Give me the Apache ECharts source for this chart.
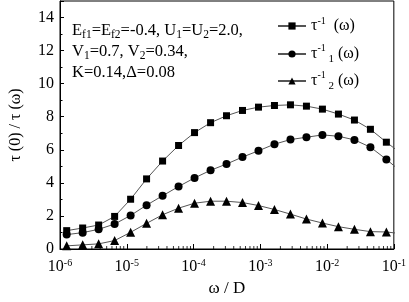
<!DOCTYPE html>
<html><head><meta charset="utf-8">
<script src="https://cdn.jsdelivr.net/npm/echarts@6/dist/echarts.min.js"></script>
<style>html,body{margin:0;padding:0;background:#fff}#c{width:409px;height:302px}</style>
</head><body><div id="c"></div>
<script>
const omega = [1.259e-6,2.185e-6,3.79e-6,6.58e-6,1.142e-5,1.98e-5,3.44e-5,5.97e-5,1.035e-4,1.80e-4,3.12e-4,5.41e-4,9.39e-4,1.63e-3,2.83e-3,4.91e-3,8.52e-3,1.48e-2,2.57e-2,4.46e-2,7.73e-2,1.34e-1];
const tauInv  = [1.11,1.27,1.45,1.97,3.01,4.24,5.32,6.26,7.04,7.64,8.06,8.38,8.58,8.68,8.72,8.64,8.46,8.16,7.80,7.24,6.46,5.72];
const tauInv1 = [0.87,0.99,1.19,1.51,2.03,2.65,3.22,3.78,4.30,4.76,5.14,5.56,5.94,6.34,6.62,6.76,6.90,6.82,6.60,6.16,5.42,4.62];
const tauInv2 = [0.19,0.25,0.31,0.51,1.01,1.55,2.07,2.47,2.77,2.89,2.89,2.81,2.63,2.39,2.11,1.81,1.57,1.35,1.19,1.05,1.03,0.92];
const xMinorTicks = [2e-6,3e-6,4e-6,5e-6,6e-6,7e-6,8e-6,9e-6,
  2e-5,3e-5,4e-5,5e-5,6e-5,7e-5,8e-5,9e-5,
  2e-4,3e-4,4e-4,5e-4,6e-4,7e-4,8e-4,9e-4,
  2e-3,3e-3,4e-3,5e-3,6e-3,7e-3,8e-3,9e-3,
  2e-2,3e-2,4e-2,5e-2,6e-2,7e-2,8e-2,9e-2];
const yTicks = [0,2,4,6,8,10,12,14];

const FONT = 'Liberation Serif';
const chart = echarts.init(document.getElementById('c'), null, {renderer:'canvas'});
const pair = a => a.map((v,i)=>[omega[i], v]);
const richBase = {
  n:{fontFamily:FONT,fontSize:16,color:'#000',lineHeight:20},
  sup:{fontFamily:FONT,fontSize:10,color:'#000',lineHeight:20,verticalAlign:'top'},
  sub:{fontFamily:FONT,fontSize:11,color:'#000',lineHeight:22,verticalAlign:'bottom'}
};
const legendText = {
  s0:'{n|τ}{sup|-1}{n|  (ω)}',
  s1:'{n|τ}{sup|-1}{sub| 1}{n| (ω)}',
  s2:'{n|τ}{sup|-1}{sub| 2}{n| (ω)}'
};
function mkLegend(name, top){
  return {show:true, orient:'vertical', left:277, top:top, itemWidth:28, itemHeight:9, itemGap:0,
    data:[name], selectedMode:false, padding:0,
    formatter: n => legendText[n],
    textStyle:{rich:richBase, fontFamily:FONT, fontSize:16, color:'#000'}};
}
function mkSeries(name, data, symbol, size){
  return {name, type:'line', data:pair(data), symbol, symbolSize:size, showSymbol:true,
    clip:true, lineStyle:{color:'#555', width:1}, itemStyle:{color:'#000', borderWidth:0},
    emphasis:{disabled:true}, z:3};
}
const option = {
  animation:false,
  backgroundColor:'#fff',
  grid:{left:53, right:13, top:1, bottom:51, show:true, borderColor:'#000', borderWidth:1},
  legend:[mkLegend('s0',16), mkLegend('s1',43), mkLegend('s2',70)],
  xAxis:{type:'log', logBase:10, min:1e-6, max:1e-1,
    name:'ω / D', nameLocation:'middle', nameGap:31,
    nameTextStyle:{fontFamily:FONT, fontSize:17, color:'#000'},
    axisLine:{lineStyle:{color:'#000', width:1}},
    axisTick:{inside:true, length:5, lineStyle:{color:'#000'}},
    splitLine:{show:false},
    axisLabel:{margin:9, formatter: v => '{n|10}{sup|' + Math.round(Math.log10(v)) + '}',
      rich:{n:{fontFamily:FONT,fontSize:16,color:'#000',lineHeight:18},
            sup:{fontFamily:FONT,fontSize:10,color:'#000',lineHeight:18,verticalAlign:'top'}}}
  },
  yAxis:{type:'value', min:0, max:15, interval:2,
    name:'τ (0) / τ (ω)', nameLocation:'middle', nameGap:36,
    nameTextStyle:{fontFamily:FONT, fontSize:16, color:'#000'},
    axisLine:{show:true, lineStyle:{color:'#000', width:1}},
    axisTick:{inside:true, length:4, lineStyle:{color:'#000'}},
    minorTick:{show:true, splitNumber:2, length:2.5, lineStyle:{color:'#000'}},
    splitLine:{show:false},
    axisLabel:{showMaxLabel:false, margin:6, fontFamily:FONT, fontSize:16, color:'#000',
      formatter: v => yTicks.indexOf(v) >= 0 ? String(v) : ''}
  },
  graphic:[{
    type:'text', left:72, top:22,
    style:{text:[
      '{n|E}{sub|f1}{n|=E}{sub|f2}{n|=-0.4, U}{sub|1}{n|=U}{sub|2}{n|=2.0,}',
      '{n|V}{sub|1}{n|=0.7, V}{sub|2}{n|=0.34,}',
      '{n|K=0.14,Δ=0.08}'].join('\n'),
      rich:{
        n:{fontFamily:FONT,fontSize:16.5,fill:'#000',lineHeight:21},
        sub:{fontFamily:FONT,fontSize:11.5,fill:'#000',lineHeight:21,verticalAlign:'bottom'}
      }}
  }],
  series:[
    mkSeries('s0', tauInv, 'rect', 7),
    mkSeries('s1', tauInv1, 'circle', 8),
    mkSeries('s2', tauInv2, 'triangle', 9),
    {name:'minor', type:'scatter', data: xMinorTicks.map(v=>[v,0]), symbol:'rect',
      symbolSize:[1,3], symbolOffset:[0,-1.5], itemStyle:{color:'#000'}, silent:true, clip:false, z:5}
  ]
};
chart.setOption(option);
</script></body></html>
